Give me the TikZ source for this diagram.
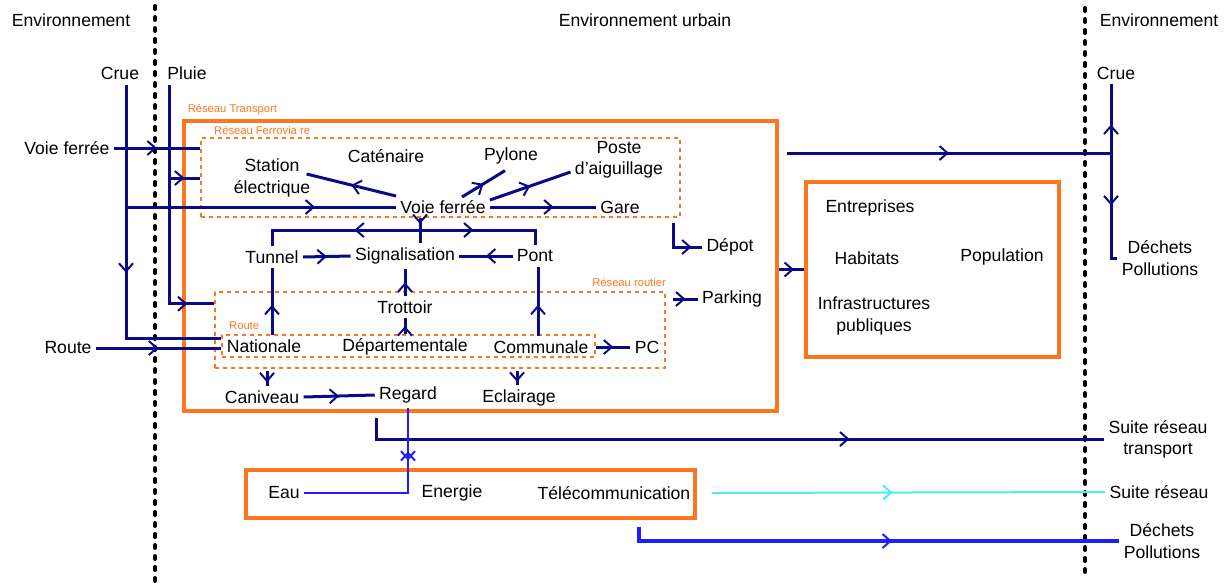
\documentclass[tikz,border=0pt]{standalone}
\usepackage{fontspec}
\setmainfont{Liberation Sans}
\usetikzlibrary{fit, positioning, calc, decorations.markings, arrows.meta}
\definecolor{blunotte}{RGB}{10,10,135}
\definecolor{blu}{RGB}{30,30,255}
\definecolor{ciano}{RGB}{80,235,250}
\definecolor{arancio}{RGB}{252,118,32}
\tikzset{
  testo/.style={font=\fontsize{8.8}{10.6}\selectfont, inner sep=2pt, align=center},
  piccolo/.style={font=\fontsize{5.6}{6}\selectfont, text=arancio, inner sep=0pt},
  scatola/.style={draw=arancio, line width=1.6pt, inner sep=0pt},
  tratteggio/.style={draw=arancio, line width=1.2pt, dash pattern=on 2.2pt off 1.8pt, inner sep=0pt},
  confine/.style={line width=2pt, line cap=round, dash pattern=on 1.5pt off 4pt},
  filo/.style={draw=blunotte, line width=1.5pt},
  punta/.tip={Straight Barb[length=4pt,width=7pt,line width=1pt]},
  flusso/.style={postaction={decorate}, decoration={markings, mark=at position #1 with {\arrow{punta}}}},
  flusso/.default=0.5,
}

\begin{document}
\begin{tikzpicture}[x=0.5pt, y=-0.5pt, every node/.style={testo}]
        \useasboundingbox (0,0) rectangle (1230,584);
        %confini
        \draw[confine] (155,6) -- (155,584);
        \draw[confine] (1085,8) -- (1085,576);
        %titoli
        \node (envsx) at (71,20) {Environnement};
        \node (envurb) at (645,20) {Environnement urbain};
        \node (envdx) at (1159,20) {Environnement};
        %scatole
        \node[scatola, fit={(184,121) (777,411)}] (trasporto) {};
        \node[tratteggio, fit={(201,138) (680,217)}] (ferro) {};
        \node[tratteggio, fit={(215,292) (665,368)}] (routier) {};
        \node[tratteggio, fit={(222,335) (595,357)}] (route) {};
        \node[scatola, fit={(806,182) (1059,357)}] (urbano) {};
        \node[scatola, fit={(246,470) (695,518)}] (reti) {};
        \node[piccolo, anchor=south west] (ltrasp) at ($(trasporto.north west)+(5,-4)$) {Réseau Transport};
        \node[piccolo, anchor=south west] (lferro) at ($(ferro.north west)+(14,-2)$) {Réseau Ferrovia re};
        \node[piccolo, anchor=south east] (lrout) at ($(routier.north east)+(0,-4)$) {Réseau routier};
        \node[piccolo, anchor=south west] (lroute) at ($(route.north west)+(8,-4)$) {Route};
        %ingressi
        \node (crue) at (120,73) {Crue};
        \node (pluie) at (187,73) {Pluie};
        \node (vfest) at (67,148) {Voie ferrée};
        \node (routeest) at (68,348) {Route};
        %rete ferroviaria
        \node (station) at (272,178) {Station\\électrique};
        \node (catenaire) at (386,156) {Caténaire};
        \node (pylone) at (511,156) {Pylone};
        \node (poste) at (619,160) {Poste\\d'aiguillage};
        \node (voie) at (443,207) {Voie ferrée};
        \node (gare) at (620,207) {Gare};
        \node (depot) at (730,247) {Dépot};
        %rete stradale
        \node (tunnel) at (272,257) {Tunnel};
        \node (signal) at (405,256) {Signalisation};
        \node (pont) at (535,256) {Pont};
        \node (trottoir) at (405,307) {Trottoir};
        \node (parking) at (732,299) {Parking};
        \node (nationale) at (264,346) {Nationale};
        \node (dept) at (405,347) {Départementale};
        \node (communale) at (541,347) {Communale};
        \node (pc) at (647,347) {PC};
        \node (caniveau) at (262,397) {Caniveau};
        \node (regard) at (408,395) {Regard};
        \node (eclairage) at (519,398) {Eclairage};
        %ambiente urbano
        \node (entreprises) at (870,208) {Entreprises};
        \node (habitats) at (867,258) {Habitats};
        \node (population) at (1002,257) {Population};
        \node (infra) at (874,316) {Infrastructures\\publiques};
        %reti
        \node (eau) at (284,493) {Eau};
        \node (energie) at (452,493) {Energie};
        \node (telecom) at (614,493) {Télécommunication};
        %uscite
        \node (crue2) at (1116,73) {Crue};
        \node (dp1) at (1160,258) {Déchets\\Pollutions};
        \node (srt) at (1158,439) {Suite réseau\\transport};
        \node (sr) at (1159,492) {Suite réseau};
        \node (dp2) at (1162,541) {Déchets\\Pollutions};
        %punti di giunzione
        \coordinate (cr) at (126,85);
        \coordinate (cr1) at (126,207);
        \coordinate (pl) at (169,85);
        \coordinate (pl1) at (169,178);
        \coordinate (g) at (420,230);
        \coordinate (t1) at (787,153);
        \coordinate (d1) at (1111,153);
        \coordinate (t2) at (376,418);
        \coordinate (b1) at (639,527);
        %crue e pluie
        \draw[filo, flusso=0.54] (cr) |- ($(route.west)+(0,-8)$);
        \draw[filo, flusso=0.7] (cr1) -- (voie.west);
        \draw[filo, flusso=0.9] (pl) |- ($(routier.north west)+(0,13)$);
        \draw[filo, flusso] (pl1) -- (pl1 -| ferro.west);
        \draw[filo, flusso] (vfest.east) -- (vfest.east -| ferro.west);
        \draw[filo, flusso] (routeest.east) -- (routeest.east -| route.west);
        %voie ferree
        \draw[filo, flusso] (voie.north west) -- ($(station.east)+(-8,-4)$);
        \draw[filo, flusso] ($(voie.north)+(19,1)$) -- ($(pylone.south)+(-6,2)$);
        \draw[filo, flusso] ($(voie.east)+(0,-7)$) -- ($(poste.west)+(0,12)$);
        \draw[filo, flusso=0.6] (voie.east) -- (gare.west);
        \draw[filo, flusso] (voie.south -| g) -- (g);
        \draw[filo] (g) -- (g |- signal.north);
        \draw[filo, flusso=0.4] (g) -| (tunnel.north);
        \draw[filo, flusso=0.41] (g) -| (pont.north);
        %signalisation
        \draw[filo, flusso] (tunnel.east) -- (signal.west);
        \draw[filo, flusso] (pont.west) -- (signal.east);
        \draw[filo, flusso] (trottoir.north) -- (signal.south);
        \draw[filo, flusso=0.45] (nationale.north -| tunnel) -- (tunnel.south);
        \draw[filo, flusso] (dept.north) -- (trottoir.south);
        \draw[filo, flusso=0.45] ($(communale.north -| pont)+(3,0)$) -- ($(pont.south)+(3,0)$);
        \draw[filo, flusso] (route.east |- pc) -- (pc.west);
        \draw[filo, flusso=0.75] ($(caniveau |- routier.south)+(5,2)$) -- ($(caniveau.north)+(5,0)$);
        \draw[filo, flusso=0.75] ($(eclairage |- routier.south)+(-2,2)$) -- ($(eclairage.north)+(-2,0)$);
        \draw[filo, flusso] (caniveau.east) -- (regard.west);
        \draw[filo, flusso=0.8] ($(ferro.south east)+(-8,5)$) |- (depot.west);
        \draw[filo, flusso] ($(routier.east |- parking)+(7,0)$) -- (parking.west);
        %verso l'esterno
        \draw[filo, flusso=0.6] (trasporto.east |- urbano) -- (urbano.west);
        \draw[filo, flusso=0.5] (t1) -- (d1);
        \draw[filo, flusso=0.41] (d1) -- (d1 |- crue2.south);
        \draw[filo, flusso=0.47] (d1) |- (dp1.west);
        \draw[filo, flusso=0.66] (t2) |- (srt.west);
        %reti
        \draw[blu, line width=1pt, postaction={decorate}, decoration={markings,
              mark=at position 0.77 with {\arrow{punta}},
              mark=at position 0.72 with {\arrowreversed{punta}}}]
              (eau.east) -| (regard.south);
        \draw[ciano, line width=1pt, flusso=0.46] ($(telecom.east)+(17,0)$) -- (sr.west);
        \draw[blu, line width=1.8pt, flusso=0.54] (b1) |- (dp2.west);
    \end{tikzpicture}
\end{document}
